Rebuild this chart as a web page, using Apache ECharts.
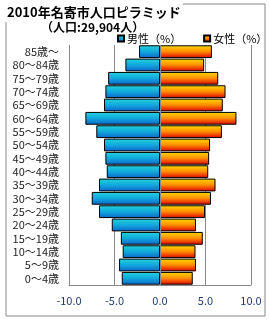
<!DOCTYPE html>
<html>
<head>
<meta charset="utf-8">
<script src="https://cdn.jsdelivr.net/npm/echarts@6/dist/echarts.min.js"></script>
<style>html,body{margin:0;padding:0;background:#fff;}#c{width:270px;height:320px;}</style>
</head>
<body>
<div id="c"></div>
<script>
const categories = ['0～4歳','5～9歳','10～14歳','15～19歳','20～24歳','25～29歳','30～34歳','35～39歳','40～44歳','45～49歳','50～54歳','55～59歳','60～64歳','65～69歳','70～74歳','75～79歳','80～84歳','85歳～'];
const maleValues = [4.2, 4.5, 4.1, 4.3, 5.3, 6.7, 7.5, 6.7, 5.85, 6.0, 6.15, 7.0, 8.2, 6.15, 6.0, 5.7, 3.8, 2.3];
const femaleValues = [3.6, 3.95, 3.9, 4.7, 3.95, 4.95, 5.6, 6.1, 5.3, 5.4, 5.5, 6.8, 8.4, 6.9, 7.2, 6.4, 4.85, 5.7];
const xTicks = [-10, -5, 0, 5, 10];
const titleText = '2010年名寄市人口ピラミッド';
const subText = '（人口:29,904人）';
const legendNames = ['男性（%）', '女性（%）'];

const font = '"Noto Sans CJK JP", "Noto Sans", sans-serif';
const maleGrad = new echarts.graphic.LinearGradient(0, 0, 0, 1, [
  {offset: 0, color: '#20d4dc'},
  {offset: 0.5, color: '#12a8dc'},
  {offset: 1, color: '#0a66cc'}
]);
const femaleGrad = new echarts.graphic.LinearGradient(0, 0, 0, 1, [
  {offset: 0, color: '#ffdc00'},
  {offset: 0.5, color: '#ff8c00'},
  {offset: 1, color: '#dc0000'}
]);

const chart = echarts.init(document.getElementById('c'), null, {renderer: 'canvas'});
chart.setOption({
  animation: false,
  backgroundColor: '#fff',
  graphic: [{
    type: 'rect', z: -10,
    shape: {x: 6, y: 4, width: 259, height: 312},
    style: {fill: '#fff', stroke: '#888', lineWidth: 1}
  }],
  title: [{
    text: titleText, left: 5, top: 3, padding: [3, 2, 3, 2],
    backgroundColor: '#fff',
    textStyle: {fontFamily: font, fontSize: 13, fontWeight: 'bold', color: '#000'}
  }, {
    text: subText, left: 41, top: 21, padding: 0,
    textStyle: {fontFamily: font, fontSize: 12, fontWeight: 'bold', color: '#000'}
  }],
  legend: {
    data: legendNames, top: 33, left: 117, itemWidth: 6, itemHeight: 6, itemGap: 22,
    icon: 'rect', padding: 0,
    textStyle: {fontFamily: font, fontSize: 11, color: '#000', padding: [0, 0, 0, -2]}
  },
  grid: {left: 69, right: 19, top: 45, bottom: 35},
  xAxis: {
    type: 'value', min: -10, max: 10, interval: 5,
    axisLine: {show: true, lineStyle: {color: '#888'}},
    axisTick: {show: false},
    splitLine: {show: true, lineStyle: {color: '#888', width: 1}},
    axisLabel: {
      margin: 10, fontFamily: font, fontSize: 11, color: '#1f3c70',
      customValues: xTicks,
      formatter: v => v.toFixed(1)
    }
  },
  yAxis: {
    type: 'category', data: categories,
    axisLine: {show: false, onZero: false},
    axisTick: {show: false},
    axisLabel: {interval: 0, margin: 10, fontFamily: font, fontSize: 11, color: '#222'}
  },
  series: [{
    name: legendNames[0], type: 'bar', stack: 'p',
    data: maleValues.map(v => -v),
    barCategoryGap: '4%',
    itemStyle: {color: maleGrad, borderColor: '#000', borderWidth: 1},
    markLine: {
      silent: true, symbol: 'none', label: {show: false},
      lineStyle: {color: '#888', type: 'solid', width: 1},
      data: [{xAxis: 0}]
    }
  }, {
    name: legendNames[1], type: 'bar', stack: 'p',
    data: femaleValues,
    barCategoryGap: '4%',
    itemStyle: {color: femaleGrad, borderColor: '#000', borderWidth: 1}
  }]
});
</script>
</body>
</html>
